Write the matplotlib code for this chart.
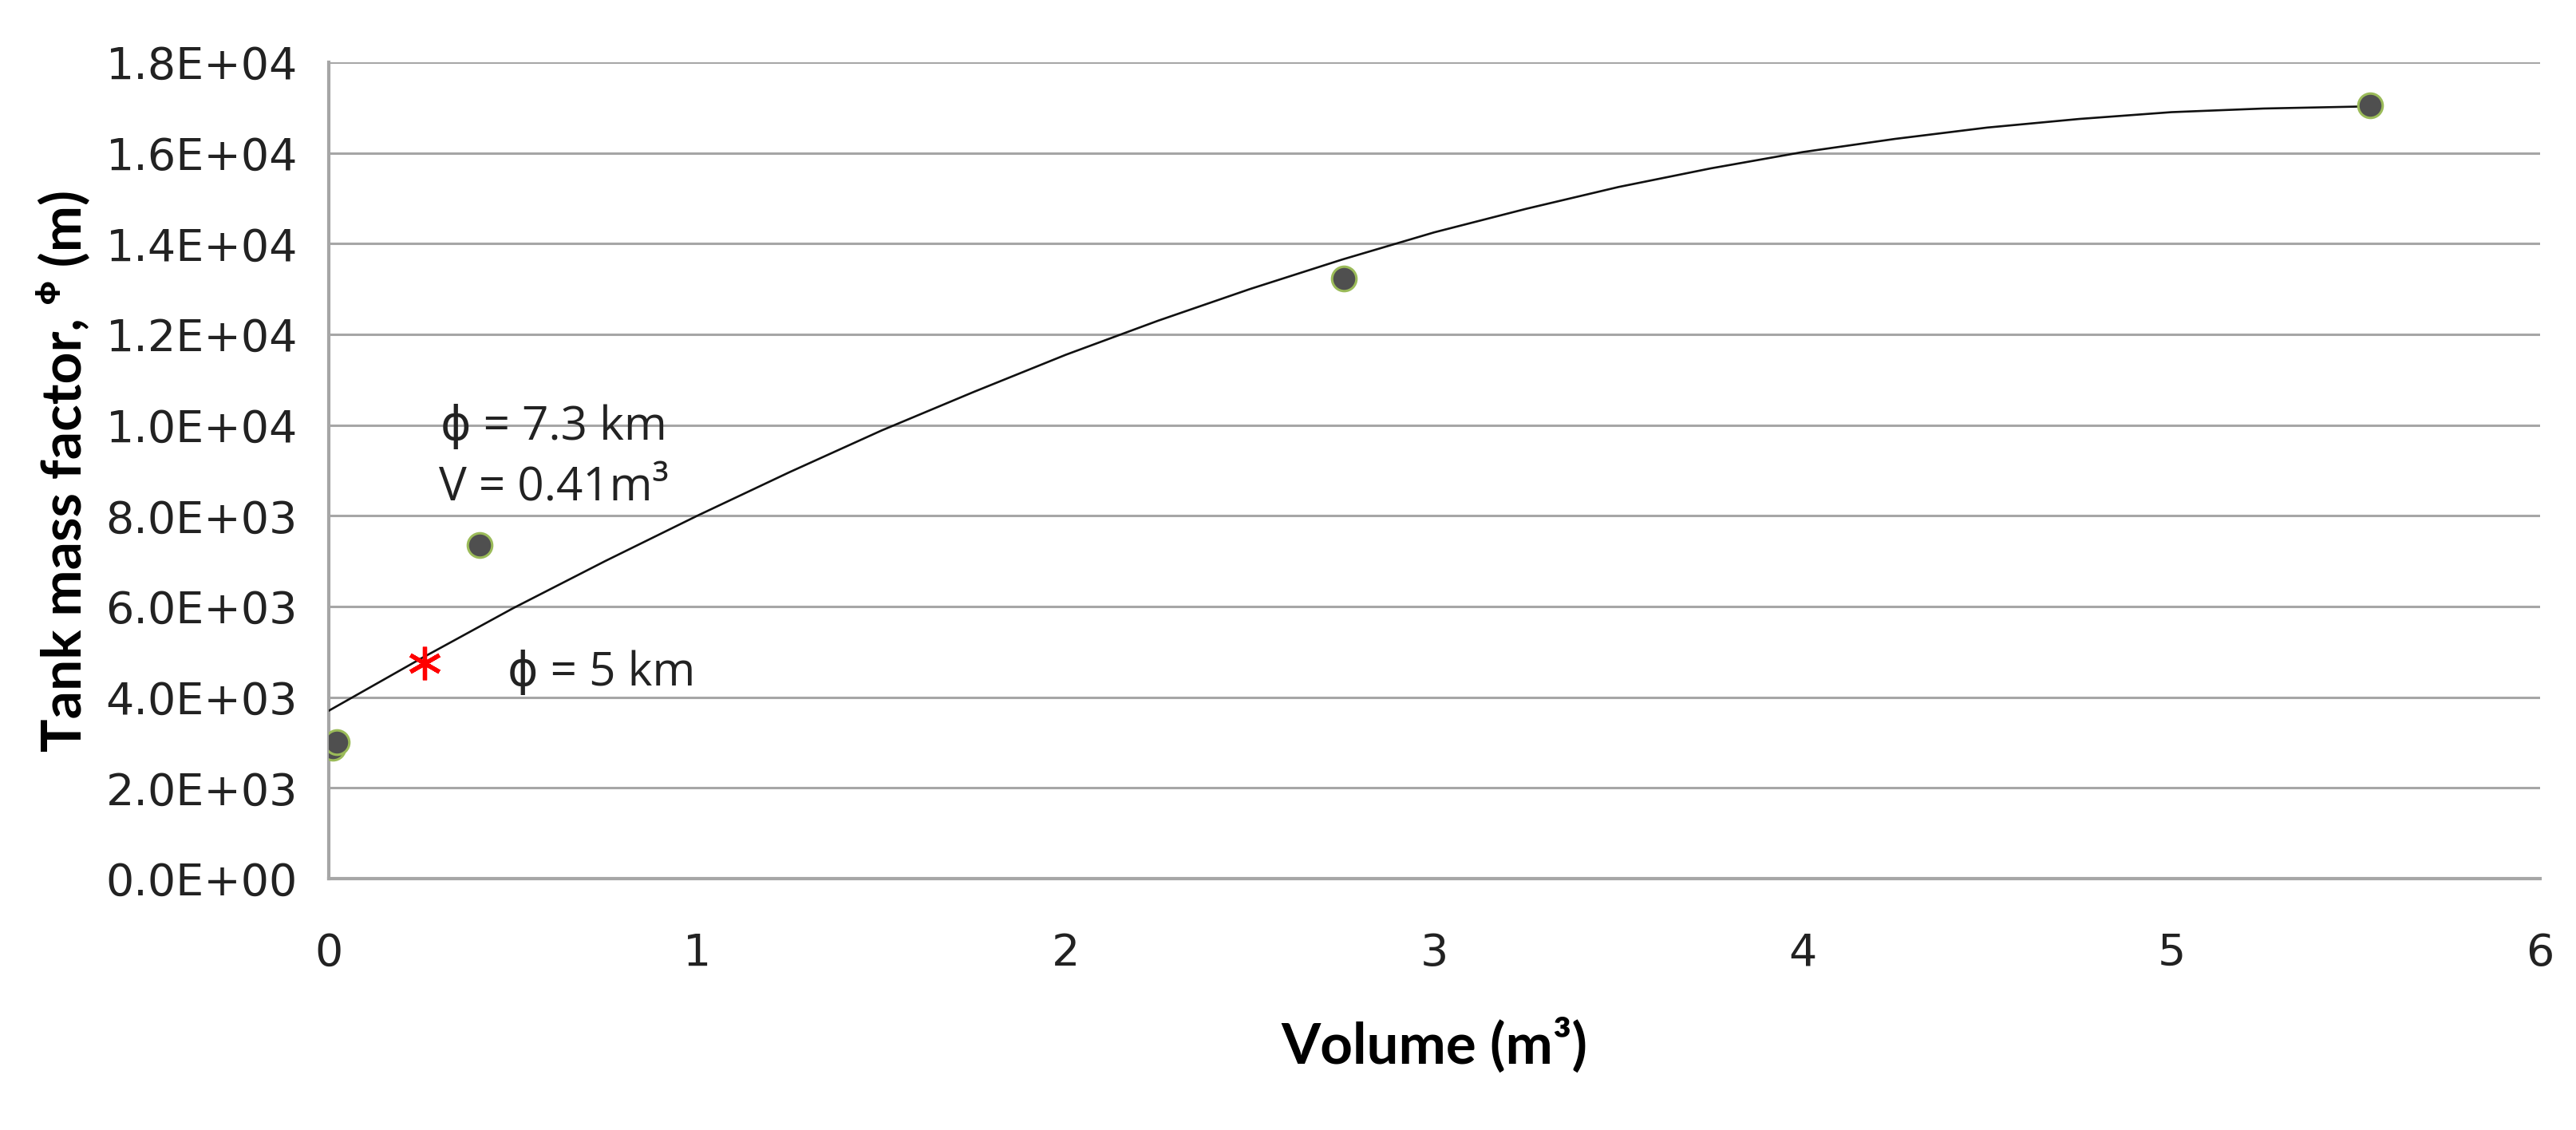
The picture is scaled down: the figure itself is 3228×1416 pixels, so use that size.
import matplotlib
matplotlib.use('Agg')
import matplotlib.pyplot as plt
from matplotlib.ticker import FixedLocator, FixedFormatter

# ---- data ----
volume = [0.010, 0.022, 0.41, 2.755, 5.54]
mass_factor = [2890, 3010, 7350, 13230, 17050]

trend_x = [0, 0.25, 0.5, 0.75, 1, 1.25, 1.5, 1.75, 2, 2.25, 2.5, 2.75, 3,
           3.25, 3.5, 3.75, 4, 4.25, 4.5, 4.75, 5, 5.25, 5.55]
trend_y = [3700, 4850, 5960, 7000, 8000, 8960, 9880, 10730, 11550, 12300, 13000,
           13650, 14250, 14770, 15250, 15660, 16020, 16310, 16560, 16750, 16900,
           16980, 17030]

star_x = [0.26]
star_y = [4750]

y_ticks = [0, 2000, 4000, 6000, 8000, 10000, 12000, 14000, 16000, 18000]
y_tick_labels = ['0.0E+00', '2.0E+03', '4.0E+03', '6.0E+03', '8.0E+03',
                 '1.0E+04', '1.2E+04', '1.4E+04', '1.6E+04', '1.8E+04']
x_ticks = [0, 1, 2, 3, 4, 5, 6]
x_tick_labels = ['0', '1', '2', '3', '4', '5', '6']

ann_texts = ['\u03d5 = 7.3 km', 'V = 0.41m\u00b3', '\u03d5 = 5 km']
ann_x = [0.61, 0.61, 0.74]
ann_y = [9950, 8600, 4530]

# ---- figure ----
fig = plt.figure(figsize=(32.28, 14.16), dpi=100)
ax = fig.add_axes([0.1276, 0.2225, 0.986 - 0.1276, 0.9449 - 0.2225])

grid_color = '#a6a6a6'
ax.set_xlim(0, 6)
ax.set_ylim(0, 18000)
ax.yaxis.set_major_locator(FixedLocator(y_ticks))
ax.yaxis.set_major_formatter(FixedFormatter(y_tick_labels))
ax.xaxis.set_major_locator(FixedLocator(x_ticks))
ax.xaxis.set_major_formatter(FixedFormatter(x_tick_labels))

ax.grid(axis='y', color=grid_color, linewidth=2.2, zorder=0)
ax.set_axisbelow(True)
for s in ['top', 'right']:
    ax.spines[s].set_visible(False)
for s in ['left', 'bottom']:
    ax.spines[s].set_color(grid_color)
    ax.spines[s].set_linewidth(3.0)

ax.tick_params(axis='both', length=0, labelsize=40, labelcolor='#222222')
ax.tick_params(axis='y', pad=28)
ax.tick_params(axis='x', pad=48)
for lab in ax.get_xticklabels() + ax.get_yticklabels():
    lab.set_family(['DejaVu Sans'])

# trendline
ax.plot(trend_x, trend_y, color='#111111', linewidth=1.9, zorder=3,
        solid_joinstyle='round')

# data points
ax.plot(volume, mass_factor, linestyle='none', marker='o', markersize=22,
        markerfacecolor='#4f4f4f', markeredgecolor='#9bbb59',
        markeredgewidth=2.2, zorder=4)

# red asterisk
ax.plot(star_x, star_y, linestyle='none', marker=(6, 2, 0), markersize=30,
        markeredgecolor='#ff0000', markeredgewidth=3.8, color='#ff0000', zorder=5)

# annotations
for t, x, y in zip(ann_texts, ann_x, ann_y):
    ax.text(x, y, t, ha='center', va='center', fontsize=42,
            family=['Open Sans', 'DejaVu Sans'], color='#222222', zorder=6)

ax.set_xlabel('Volume (m\u00b3)', fontsize=51, fontweight='bold',
              family=['Lato', 'DejaVu Sans'], labelpad=38)
ax.set_ylabel('Tank mass factor, \u1db2 (m)', fontsize=50, fontweight='bold',
              family=['Lato', 'DejaVu Sans'], labelpad=14)

fig.savefig('out.png', dpi=100, facecolor='white')
